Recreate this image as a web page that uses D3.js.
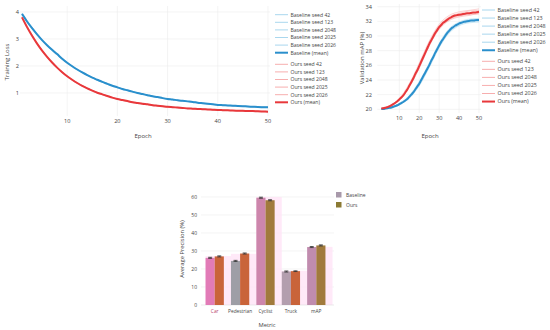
<!DOCTYPE html>
<html>
<head>
<meta charset="utf-8">
<script src="https://cdn.jsdelivr.net/npm/d3@7"></script>
<style>
  body { margin: 0; background: #fff; }
  svg { font-family: "Open Sans", sans-serif; }
</style>
</head>
<body>
<svg id="chart" width="550" height="330"></svg>
<script>
// Epochs
var epochs = d3.range(1, 51);
var seedEpochs = [1, 5, 10, 15, 20, 25, 30, 35, 40, 45, 50];
var seedNames = ["42", "123", "2048", "2025", "2026"];

// Training loss (means, one value per epoch)
var lossBaseline = [3.93, 3.65, 3.40, 3.17, 2.96, 2.77, 2.60, 2.44, 2.27, 2.12,
    1.99, 1.87, 1.76, 1.66, 1.57, 1.49, 1.41, 1.34, 1.27, 1.21,
    1.15, 1.10, 1.05, 1.00, 0.96, 0.92, 0.88, 0.85, 0.81, 0.78,
    0.76, 0.73, 0.71, 0.69, 0.67, 0.64, 0.62, 0.60, 0.58, 0.56,
    0.55, 0.54, 0.53, 0.52, 0.51, 0.50, 0.49, 0.48, 0.475, 0.47];
var lossOurs = [3.80, 3.44, 3.12, 2.83, 2.57, 2.34, 2.13, 1.94, 1.77, 1.62,
    1.49, 1.37, 1.26, 1.17, 1.09, 1.01, 0.95, 0.89, 0.83, 0.78,
    0.74, 0.70, 0.66, 0.63, 0.60, 0.58, 0.55, 0.53, 0.51, 0.49,
    0.475, 0.46, 0.445, 0.43, 0.42, 0.41, 0.40, 0.39, 0.38, 0.37,
    0.365, 0.36, 0.35, 0.345, 0.34, 0.335, 0.33, 0.32, 0.315, 0.31];

// Training loss per seed (at seedEpochs)
var lossBaselineSeeds = [
    [3.95, 2.98, 2.14, 1.58, 1.22, 0.97, 0.79, 0.67, 0.57, 0.51, 0.47],
    [3.91, 2.94, 2.10, 1.56, 1.20, 0.95, 0.77, 0.66, 0.56, 0.50, 0.46],
    [3.94, 2.97, 2.13, 1.58, 1.21, 0.96, 0.78, 0.67, 0.56, 0.51, 0.47],
    [3.92, 2.95, 2.11, 1.56, 1.20, 0.96, 0.78, 0.66, 0.55, 0.50, 0.47],
    [3.93, 2.96, 2.12, 1.57, 1.21, 0.96, 0.78, 0.67, 0.56, 0.51, 0.48]
];
var lossOursSeeds = [
    [3.82, 2.59, 1.63, 1.10, 0.79, 0.61, 0.50, 0.42, 0.37, 0.34, 0.31],
    [3.78, 2.55, 1.60, 1.08, 0.77, 0.59, 0.48, 0.41, 0.36, 0.33, 0.30],
    [3.81, 2.58, 1.63, 1.10, 0.78, 0.60, 0.49, 0.42, 0.37, 0.34, 0.31],
    [3.79, 2.56, 1.61, 1.08, 0.77, 0.60, 0.49, 0.42, 0.37, 0.34, 0.31],
    [3.80, 2.57, 1.62, 1.09, 0.78, 0.60, 0.49, 0.42, 0.37, 0.34, 0.32]
];

// Validation mAP (means, one value per epoch)
var mapBaseline = [20.05, 20.05, 20.1, 20.15, 20.2, 20.25, 20.35, 20.45, 20.55, 20.7,
    20.85, 21.0, 21.2, 21.4, 21.7, 22.0, 22.3, 22.7, 23.1, 23.5,
    24.0, 24.5, 25.0, 25.5, 26.0, 26.6, 27.1, 27.7, 28.2, 28.7,
    29.2, 29.6, 30.0, 30.4, 30.7, 31.0, 31.2, 31.4, 31.55, 31.7,
    31.8, 31.9, 31.95, 32.0, 32.05, 32.1, 32.1, 32.15, 32.2, 32.2];
var mapOurs = [20.1, 20.15, 20.2, 20.3, 20.4, 20.55, 20.7, 20.9, 21.1, 21.35,
    21.6, 21.9, 22.3, 22.7, 23.2, 23.7, 24.2, 24.8, 25.3, 25.9,
    26.5, 27.1, 27.7, 28.3, 28.9, 29.4, 29.9, 30.4, 30.8, 31.2,
    31.5, 31.8, 32.0, 32.2, 32.4, 32.55, 32.7, 32.8, 32.85, 32.9,
    32.95, 33.0, 33.05, 33.1, 33.1, 33.15, 33.2, 33.2, 33.25, 33.3];

// Validation mAP per seed (at seedEpochs)
var mapBaselineSeeds = [
    [20.0, 20.2, 20.8, 21.9, 23.8, 26.3, 29.0, 31.0, 31.9, 32.3, 32.4],
    [20.1, 20.2, 20.6, 21.5, 23.2, 25.7, 28.4, 30.4, 31.4, 31.8, 31.9],
    [20.0, 20.3, 20.7, 21.8, 23.6, 26.2, 28.9, 30.9, 31.8, 32.2, 32.3],
    [20.1, 20.1, 20.6, 21.6, 23.3, 25.8, 28.5, 30.5, 31.5, 31.9, 32.0],
    [20.0, 20.2, 20.8, 21.7, 23.6, 26.0, 28.7, 30.7, 31.8, 32.1, 32.3]
];
var mapOursSeeds = [
    [20.1, 20.5, 21.5, 23.5, 26.3, 29.3, 31.6, 32.8, 33.3, 33.5, 33.7],
    [20.2, 20.4, 21.2, 23.0, 25.6, 28.6, 31.0, 32.2, 32.7, 32.9, 33.0],
    [20.1, 20.3, 21.4, 23.3, 26.0, 29.1, 31.4, 32.6, 33.1, 33.4, 33.5],
    [20.0, 20.4, 21.3, 23.1, 25.7, 28.7, 30.9, 32.1, 32.6, 32.8, 33.1],
    [20.1, 20.5, 21.4, 23.2, 26.1, 28.9, 31.2, 32.4, 32.8, 33.0, 33.2]
];

// Final AP per metric
var metrics = ["Car", "Pedestrian", "Cyclist", "Truck", "mAP"];
var apBaseline = [26.2, 24.5, 59.6, 18.6, 32.2];
var apOurs = [27.0, 28.6, 58.2, 18.8, 33.1];
var apBaselineErr = [0.3, 0.3, 0.3, 0.3, 0.3];
var apOursErr = [0.3, 0.3, 0.3, 0.2, 0.3];
var apHighlight = [27.2, 28.4, 60, 19.0, 32.3];

var blue = "#2a8fcc", red = "#e8383b";
var blueSeed = "#9fd3ec", redSeed = "#f6a5a5";
var textColor = "#444", gridColor = "#ececec";

var svg = d3.select("#chart");

function lineChart(cfg) {
    var g = svg.append("g");
    var x = d3.scaleLinear().domain(cfg.xDomain).range(cfg.xRange);
    var y = d3.scaleLinear().domain(cfg.yDomain).range(cfg.yRange);

    // grid
    g.selectAll(".vg").data(cfg.xTicks).enter().append("line")
        .attr("x1", d => x(d)).attr("x2", d => x(d))
        .attr("y1", cfg.top).attr("y2", cfg.bottom)
        .attr("stroke", gridColor).attr("stroke-width", 0.6);
    g.selectAll(".hg").data(cfg.yTicks).enter().append("line")
        .attr("x1", cfg.xRange[0] - 2).attr("x2", cfg.right)
        .attr("y1", d => y(d)).attr("y2", d => y(d))
        .attr("stroke", gridColor).attr("stroke-width", 0.6);

    // tick labels
    g.selectAll(".xt").data(cfg.xTicks).enter().append("text")
        .attr("x", d => x(d)).attr("y", cfg.bottom + 7)
        .attr("text-anchor", "middle").attr("font-size", 5.6).attr("fill", textColor)
        .text(d => d);
    g.selectAll(".yt").data(cfg.yTicks).enter().append("text")
        .attr("x", cfg.yLabelX).attr("y", d => y(d) + 2)
        .attr("text-anchor", "end").attr("font-size", 5.6).attr("fill", textColor)
        .text(d => d);

    // axis titles
    g.append("text").attr("x", cfg.xTitleX).attr("y", 138)
        .attr("text-anchor", "middle").attr("font-size", 6).attr("fill", textColor)
        .text("Epoch");
    g.append("text")
        .attr("transform", "translate(" + cfg.yTitleX + "," + cfg.yTitleY + ") rotate(-90)")
        .attr("text-anchor", "middle").attr("font-size", 6).attr("fill", textColor)
        .text(cfg.yTitle);

    var line = d3.line().x(d => x(d[0])).y(d => y(d[1])).curve(d3.curveMonotoneX);

    function drawSeeds(seeds, color) {
        seeds.forEach(function (s) {
            g.append("path")
                .attr("d", line(seedEpochs.map((e, i) => [e, s[i]])))
                .attr("fill", "none").attr("stroke", color)
                .attr("stroke-width", 0.8).attr("stroke-opacity", 0.6);
        });
    }
    drawSeeds(cfg.baseSeeds, blueSeed);
    drawSeeds(cfg.oursSeeds, redSeed);

    g.append("path").attr("d", line(epochs.map((e, i) => [e, cfg.base[i]])))
        .attr("fill", "none").attr("stroke", blue).attr("stroke-width", 2);
    g.append("path").attr("d", line(epochs.map((e, i) => [e, cfg.ours[i]])))
        .attr("fill", "none").attr("stroke", red).attr("stroke-width", 2);

    // legend
    var items = [];
    seedNames.forEach(n => items.push({ label: "Baseline seed " + n, color: blueSeed, w: 0.9 }));
    items.push({ label: "Baseline (mean)", color: blue, w: 2 });
    seedNames.forEach(n => items.push({ label: "Ours seed " + n, color: redSeed, w: 0.9 }));
    items.push({ label: "Ours (mean)", color: red, w: 2 });

    var leg = g.append("g");
    items.forEach(function (it, i) {
        var yy = cfg.legendY + i * cfg.legendStep + (i >= 6 ? cfg.legendGap : 0);
        leg.append("line")
            .attr("x1", cfg.legendX).attr("x2", cfg.legendX + 13)
            .attr("y1", yy).attr("y2", yy)
            .attr("stroke", it.color).attr("stroke-width", it.w);
        leg.append("text")
            .attr("x", cfg.legendX + 15.5).attr("y", yy + 1.8)
            .attr("font-size", cfg.legendFont).attr("fill", textColor)
            .text(it.label);
    });
}

lineChart({
    xDomain: [1, 50], xRange: [22, 268],
    yDomain: [0, 4], yRange: [120, 12],
    top: 6, bottom: 116, right: 270,
    xTicks: [10, 20, 30, 40, 50], yTicks: [1, 2, 3, 4],
    yLabelX: 19, xTitleX: 143, yTitleX: 9, yTitleY: 62,
    yTitle: "Training Loss",
    base: lossBaseline, ours: lossOurs,
    baseSeeds: lossBaselineSeeds, oursSeeds: lossOursSeeds,
    legendX: 275, legendY: 14.7, legendStep: 7.6, legendGap: 4, legendFont: 5.1
});

lineChart({
    xDomain: [0, 50], xRange: [379.4, 479],
    yDomain: [20, 34], yRange: [109.3, 6.7],
    top: 4, bottom: 113, right: 481,
    xTicks: [10, 20, 30, 40, 50], yTicks: [20, 22, 24, 26, 28, 30, 32, 34],
    yLabelX: 372, xTitleX: 430, yTitleX: 364, yTitleY: 58,
    yTitle: "Validation mAP (%)",
    base: mapBaseline, ours: mapOurs,
    baseSeeds: mapBaselineSeeds, oursSeeds: mapOursSeeds,
    legendX: 482, legendY: 10, legendStep: 8.05, legendGap: 3, legendFont: 5.4
});

// Bar chart
var baseColors = ["#e27bb7", "#9e9ea6", "#cd86ac", "#b39eae", "#c08cae"];
var oursColors = ["#c9643a", "#c9643a", "#a17a3c", "#c9643a", "#a17a3c"];

var bx = d3.scaleBand().domain(metrics).range([202, 329]).paddingInner(0.28).paddingOuter(0.14);
var by = d3.scaleLinear().domain([0, 60]).range([305, 197]);
var bg = svg.append("g");

bg.selectAll(".hg").data([10, 20, 30, 40, 50, 60]).enter().append("line")
    .attr("x1", 201).attr("x2", 334)
    .attr("y1", d => by(d)).attr("y2", d => by(d))
    .attr("stroke", gridColor).attr("stroke-width", 0.6);

// highlight band behind each group
bg.selectAll(".hl").data(metrics).enter().append("rect")
    .attr("x", d => bx(d))
    .attr("y", (d, i) => by(apHighlight[i]))
    .attr("width", bx.step())
    .attr("height", (d, i) => by(0) - by(apHighlight[i]))
    .attr("fill", "#ffe3f6").attr("fill-opacity", 0.8);

bg.append("line").attr("x1", 201).attr("x2", 334)
    .attr("y1", by(0)).attr("y2", by(0))
    .attr("stroke", "#ddd").attr("stroke-width", 0.6);

var half = bx.bandwidth() / 2;
function bars(vals, errs, colors, offset) {
    bg.selectAll(null).data(metrics).enter().append("rect")
        .attr("x", d => bx(d) + offset)
        .attr("y", (d, i) => by(vals[i]))
        .attr("width", half)
        .attr("height", (d, i) => by(0) - by(vals[i]))
        .attr("fill", (d, i) => colors[i]);
    metrics.forEach(function (m, i) {
        var cx = bx(m) + offset + half / 2;
        bg.append("path")
            .attr("d", "M" + (cx - 2) + "," + by(vals[i] + errs[i]) + "H" + (cx + 2) +
                "M" + cx + "," + by(vals[i] + errs[i]) + "V" + by(vals[i] - errs[i]) +
                "M" + (cx - 2) + "," + by(vals[i] - errs[i]) + "H" + (cx + 2))
            .attr("stroke", "#333").attr("stroke-width", 0.8).attr("fill", "none");
    });
}
bars(apBaseline, apBaselineErr, baseColors, 0);
bars(apOurs, apOursErr, oursColors, half);

bg.selectAll(".yt").data([0, 10, 20, 30, 40, 50, 60]).enter().append("text")
    .attr("x", 197).attr("y", d => by(d) + 1.8)
    .attr("text-anchor", "end").attr("font-size", 5).attr("fill", textColor)
    .text(d => d);
bg.selectAll(".xt").data(metrics).enter().append("text")
    .attr("x", d => bx(d) + bx.bandwidth() / 2).attr("y", 312.5)
    .attr("text-anchor", "middle").attr("font-size", 4.8)
    .attr("fill", (d, i) => i === 0 ? "#b8456e" : textColor)
    .text(d => d);
bg.append("text").attr("x", 267).attr("y", 327)
    .attr("text-anchor", "middle").attr("font-size", 5.8).attr("fill", textColor)
    .text("Metric");
bg.append("text")
    .attr("transform", "translate(184,249) rotate(-90)")
    .attr("text-anchor", "middle").attr("font-size", 5.8).attr("fill", textColor)
    .text("Average Precision (%)");

var legendBars = [{ label: "Baseline", color: "#a899aa" }, { label: "Ours", color: "#8b7a33" }];
legendBars.forEach(function (it, i) {
    var yy = 195 + i * 10;
    bg.append("rect").attr("x", 336).attr("y", yy - 3).attr("width", 5.5).attr("height", 5.5)
        .attr("fill", it.color);
    bg.append("text").attr("x", 346).attr("y", yy + 1.8)
        .attr("font-size", 5).attr("fill", textColor).text(it.label);
});
</script>
</body>
</html>
